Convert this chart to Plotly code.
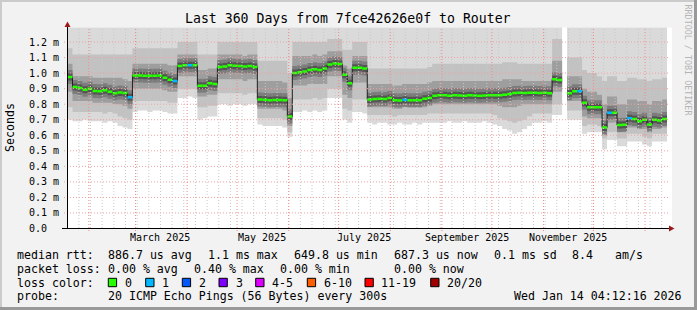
import plotly.graph_objects as go
import pandas as pd

W, H = 697, 310
def px(x): return x / W
def py(y): return 1 - y / H

FONT = "DejaVu Sans Mono"

# ---------------- data (3-day bins, starting 2025-01-19 04:12:16) ----------------
START = pd.Timestamp("2025-01-19 04:12:16")
BIN_DAYS = 3

median = [
    0.975, 0.91, 0.905, 0.893, 0.90, 0.885, 0.883, 0.89, 0.88, 0.87,
    0.875, 0.872, 0.845, 0.985, 0.985, 0.983, 0.983, 0.983, 0.985, 0.97,
    0.958, 0.95, 1.045, 1.05, 1.05, 1.05, 0.918, 0.918, 0.935, 0.93,
    1.04, 1.043, 1.05, 1.048, 1.045, 1.042, 1.045, 1.04, 0.83, 0.828,
    0.825, 0.827, 0.827, 0.825, 0.72, 1.0, 1.006, 1.01, 1.02, 1.025,
    1.02, 1.03, 1.055, 1.062, 1.058, 0.99, 0.935, 1.035, 1.035, 1.03,
    0.83, 0.833, 0.835, 0.833, 0.84, 0.825, 0.823, 0.828, 0.826, 0.825,
    0.826, 0.835, 0.84, 0.855, 0.857, 0.857, 0.855, 0.857, 0.856, 0.855,
    0.857, 0.856, 0.855, 0.856, 0.857, 0.858, 0.858, 0.86, 0.865, 0.872,
    0.873, 0.872, 0.874, 0.873, 0.872, 0.873, 0.87, 0.96, 0.955, None,
    0.87, 0.884, 0.884, 0.81, 0.78, 0.78, 0.78, 0.65, 0.745, 0.745,
    0.666, 0.668, 0.71, 0.705, 0.69, 0.70, 0.67, 0.70, 0.695, 0.705,
]

loss = [
    0, 0, 0, 0, 0, 0, 0, 0, 0, 0,
    0, 0, 1, 0, 0, 0, 0, 0, 0, 0,
    0, 1, 0, 0, 1, 0, 0, 0, 0, 0,
    0, 0, 0, 0, 0, 0, 0, 0, 0, 0,
    0, 0, 0, 0, 0, 0, 0, 0, 0, 0,
    0, 0, 0, 0, 0, 0, 0, 0, 0, 0,
    0, 0, 0, 0, 0, 0, 0, 1, 0, 0,
    0, 0, 0, 0, 0, 0, 0, 0, 0, 0,
    0, 0, 0, 0, 0, 0, 0, 0, 0, 0,
    0, 0, 0, 0, 0, 0, 0, 0, 0, 0,
    0, 0, 1, 0, 0, 0, 0, 0, 1, 0,
    0, 0, 1, 0, 0, 0, 0, 0, 0, 0,
]

lo = [
    0.70, 0.69, 0.69, 0.70, 0.69, 0.69, 0.69, 0.68, 0.69, 0.68,
    0.66, 0.65, 0.64, 0.75, 0.76, 0.76, 0.75, 0.76, 0.76, 0.75,
    0.74, 0.74, 0.84, 0.84, 0.85, 0.84, 0.70, 0.71, 0.72, 0.72,
    0.80, 0.80, 0.79, 0.80, 0.80, 0.79, 0.80, 0.80, 0.67, 0.66,
    0.66, 0.66, 0.66, 0.65, 0.59, 0.75, 0.75, 0.76, 0.75, 0.76,
    0.75, 0.76, 0.84, 0.84, 0.84, 0.70, 0.68, 0.75, 0.75, 0.74,
    0.68, 0.67, 0.68, 0.68, 0.67, 0.67, 0.68, 0.67, 0.67, 0.68,
    0.67, 0.68, 0.68, 0.68, 0.68, 0.68, 0.69, 0.68, 0.68, 0.69,
    0.68, 0.68, 0.68, 0.69, 0.68, 0.67, 0.66, 0.64, 0.63, 0.61,
    0.62, 0.64, 0.66, 0.68, 0.68, 0.69, 0.68, 0.73, 0.73, None,
    0.70, 0.70, 0.70, 0.61, 0.62, 0.62, 0.62, 0.51, 0.57, 0.57,
    0.53, 0.53, 0.56, 0.56, 0.56, 0.54, 0.53, 0.56, 0.56, 0.56,
]

p10 = [
    0.78, 0.75, 0.75, 0.75, 0.75, 0.75, 0.75, 0.74, 0.75, 0.74,
    0.72, 0.71, 0.70, 0.82, 0.82, 0.82, 0.82, 0.82, 0.82, 0.82,
    0.81, 0.81, 0.90, 0.90, 0.90, 0.90, 0.78, 0.78, 0.79, 0.79,
    0.87, 0.87, 0.87, 0.87, 0.87, 0.86, 0.87, 0.87, 0.71, 0.71,
    0.71, 0.71, 0.71, 0.70, 0.62, 0.83, 0.83, 0.83, 0.83, 0.84,
    0.83, 0.84, 0.90, 0.90, 0.90, 0.77, 0.76, 0.83, 0.83, 0.83,
    0.73, 0.73, 0.73, 0.73, 0.73, 0.72, 0.73, 0.73, 0.73, 0.73,
    0.73, 0.73, 0.74, 0.74, 0.74, 0.74, 0.74, 0.74, 0.74, 0.74,
    0.74, 0.74, 0.74, 0.74, 0.74, 0.73, 0.71, 0.70, 0.69, 0.68,
    0.69, 0.70, 0.72, 0.74, 0.74, 0.74, 0.74, 0.80, 0.80, None,
    0.76, 0.76, 0.76, 0.66, 0.67, 0.67, 0.66, 0.58, 0.62, 0.62,
    0.58, 0.58, 0.61, 0.61, 0.61, 0.59, 0.58, 0.61, 0.61, 0.61,
]

p25 = [
    0.88, 0.82, 0.82, 0.82, 0.82, 0.81, 0.81, 0.81, 0.81, 0.80,
    0.80, 0.79, 0.77, 0.90, 0.90, 0.90, 0.90, 0.90, 0.90, 0.89,
    0.88, 0.88, 0.98, 0.98, 0.98, 0.98, 0.85, 0.85, 0.86, 0.86,
    0.96, 0.96, 0.96, 0.96, 0.96, 0.95, 0.96, 0.96, 0.77, 0.77,
    0.77, 0.77, 0.77, 0.76, 0.66, 0.92, 0.92, 0.92, 0.93, 0.93,
    0.93, 0.93, 0.98, 0.98, 0.98, 0.86, 0.84, 0.94, 0.94, 0.94,
    0.78, 0.78, 0.78, 0.78, 0.78, 0.77, 0.77, 0.78, 0.78, 0.78,
    0.78, 0.78, 0.79, 0.80, 0.80, 0.80, 0.80, 0.80, 0.80, 0.80,
    0.80, 0.80, 0.80, 0.80, 0.80, 0.80, 0.79, 0.78, 0.78, 0.78,
    0.79, 0.80, 0.80, 0.80, 0.80, 0.80, 0.80, 0.88, 0.88, None,
    0.82, 0.82, 0.82, 0.72, 0.71, 0.71, 0.71, 0.60, 0.68, 0.68,
    0.62, 0.62, 0.65, 0.65, 0.64, 0.64, 0.62, 0.64, 0.64, 0.65,
]

p75 = [
    1.06, 0.98, 0.98, 0.98, 0.98, 0.97, 0.97, 0.97, 0.97, 0.97,
    0.97, 0.96, 0.95, 1.06, 1.06, 1.06, 1.06, 1.06, 1.06, 1.06,
    1.05, 1.05, 1.12, 1.12, 1.12, 1.12, 1.02, 1.02, 1.03, 1.03,
    1.12, 1.12, 1.12, 1.12, 1.12, 1.11, 1.12, 1.12, 0.95, 0.95,
    0.95, 0.95, 0.95, 0.94, 0.84, 1.11, 1.11, 1.11, 1.11, 1.12,
    1.11, 1.12, 1.14, 1.14, 1.14, 1.05, 1.03, 1.11, 1.11, 1.11,
    0.93, 0.93, 0.93, 0.93, 0.93, 0.92, 0.92, 0.93, 0.93, 0.93,
    0.93, 0.93, 0.94, 0.95, 0.95, 0.95, 0.95, 0.95, 0.95, 0.95,
    0.95, 0.95, 0.95, 0.95, 0.95, 0.95, 0.95, 0.96, 0.96, 0.96,
    0.96, 0.95, 0.95, 0.95, 0.95, 0.95, 0.95, 1.08, 1.08, None,
    0.98, 0.98, 0.98, 0.90, 0.88, 0.88, 0.86, 0.80, 0.85, 0.85,
    0.80, 0.80, 0.83, 0.83, 0.82, 0.82, 0.80, 0.82, 0.82, 0.83,
]

p90 = [
    1.16, 1.12, 1.12, 1.12, 1.12, 1.12, 1.12, 1.12, 1.12, 1.12,
    1.12, 1.12, 1.12, 1.16, 1.16, 1.16, 1.16, 1.16, 1.16, 1.16,
    1.16, 1.16, 1.20, 1.20, 1.20, 1.20, 1.12, 1.12, 1.12, 1.12,
    1.20, 1.20, 1.20, 1.20, 1.20, 1.20, 1.20, 1.20, 1.08, 1.08,
    1.08, 1.08, 1.08, 1.08, 1.00, 1.20, 1.20, 1.20, 1.20, 1.20,
    1.20, 1.20, 1.22, 1.22, 1.22, 1.15, 1.15, 1.20, 1.20, 1.20,
    1.03, 1.03, 1.03, 1.03, 1.03, 1.03, 1.03, 1.03, 1.03, 1.03,
    1.03, 1.03, 1.04, 1.06, 1.06, 1.06, 1.06, 1.06, 1.06, 1.06,
    1.06, 1.06, 1.06, 1.06, 1.06, 1.06, 1.06, 1.07, 1.07, 1.07,
    1.06, 1.06, 1.06, 1.06, 1.06, 1.06, 1.06, 1.22, 1.22, None,
    1.10, 1.10, 1.10, 1.02, 1.00, 1.00, 0.98, 0.95, 0.98, 0.98,
    0.95, 0.95, 0.97, 0.97, 0.96, 0.96, 0.95, 0.96, 0.96, 0.97,
]

# highest pings: above the top of the graph (clipped), none in the gap
hi = [None if m is None else 1.30 for m in median]

y_ticks = [0.0, 0.1, 0.2, 0.3, 0.4, 0.5, 0.6, 0.7, 0.8, 0.9, 1.0, 1.1, 1.2]
y_labels = ["0.0\u00a0\u00a0", "0.1 m", "0.2 m", "0.3 m", "0.4 m", "0.5 m", "0.6 m",
            "0.7 m", "0.8 m", "0.9 m", "1.0 m", "1.1 m", "1.2 m"]
month_labels = ["March 2025", "May 2025", "July 2025", "September 2025", "November 2025"]
month_label_dates = ["2025-03-16", "2025-05-16", "2025-07-16", "2025-09-16", "2025-11-16"]

loss_names = ["0", "1", "2", "3", "4-5", "6-10", "11-19", "20/20"]
loss_colors = ["#26ff00", "#00b8ff", "#0059ff", "#7e00ff", "#dd00ff", "#ff5e00", "#ff0000", "#a10000"]

# ---------------- helpers ----------------
n = len(median)
edges = [(START + pd.Timedelta(days=BIN_DAYS * i)).strftime("%Y-%m-%d %H:%M:%S") for i in range(n + 1)]

def runs(vals):
    out, cur = [], []
    for i, v in enumerate(vals):
        if v is None:
            if cur:
                out.append(cur)
                cur = []
        else:
            cur.append(i)
    if cur:
        out.append(cur)
    return out

def band(lower, upper):
    xs, ys = [], []
    for r in runs(lower):
        fx, fy = [], []
        for i in r:
            fx += [edges[i], edges[i + 1]]
            fy += [lower[i], lower[i]]
        for i in reversed(r):
            fx += [edges[i + 1], edges[i]]
            fy += [upper[i], upper[i]]
        xs += fx + [fx[0], None]
        ys += fy + [fy[0], None]
    return xs, ys

def step(vals):
    xs, ys = [], []
    for r in runs(vals):
        for i in r:
            xs += [edges[i], edges[i + 1]]
            ys += [vals[i], vals[i]]
        xs.append(None)
        ys.append(None)
    return xs, ys

def segs(vals, keep):
    xs, ys = [], []
    for i, v in enumerate(vals):
        if v is None or not keep(i):
            continue
        xs += [edges[i], edges[i + 1], None]
        ys += [v, v, None]
    return xs, ys

fig = go.Figure()

for lower, upper, col in [(lo, hi, "#dadada"), (p10, p90, "#c2c2c2"), (p25, p75, "#9e9e9e")]:
    bx, by = band(lower, upper)
    fig.add_trace(go.Scatter(x=bx, y=by, mode="lines", fill="toself", fillcolor=col,
                             line=dict(width=0), hoverinfo="skip", showlegend=False))

cx, cy = segs(median, lambda i: True)
fig.add_trace(go.Scatter(x=cx, y=cy, mode="lines", line=dict(color="#7c7c7c", width=14),
                         hoverinfo="skip", showlegend=False))
fig.add_trace(go.Scatter(x=cx, y=cy, mode="lines", line=dict(color="#545454", width=7),
                         hoverinfo="skip", showlegend=False))

sx, sy = step(median)
fig.add_trace(go.Scatter(x=sx, y=sy, mode="lines", line=dict(color="#202020", width=1),
                         hoverinfo="skip", showlegend=False))

for lv in sorted(set(loss)):
    gx, gy = segs(median, lambda i, lv=lv: loss[i] == lv)
    fig.add_trace(go.Scatter(x=gx, y=gy, mode="lines", line=dict(color=loss_colors[lv], width=2.5),
                             hoverinfo="skip", showlegend=False))

# ---------------- layout ----------------
Y_TOP = (228 - 27.5) / 155.0
shapes = []
GRID_DASH = "1px,2px"
for v in y_ticks[1:]:
    shapes.append(dict(type="line", xref="paper", yref="y", x0=px(64), x1=px(668), y0=v, y1=v,
                       line=dict(color="#f2a0a0", width=1, dash=GRID_DASH), layer="above"))
for d in pd.date_range("2025-01-19", "2026-01-17", freq="W-SUN"):
    shapes.append(dict(type="line", xref="x", yref="paper", x0=d, x1=d, y0=py(228), y1=py(27.5),
                       line=dict(color="#c8c8c8", width=1, dash=GRID_DASH), layer="above"))
for d in pd.date_range("2025-02-01", "2026-01-17", freq="MS"):
    shapes.append(dict(type="line", xref="x", yref="paper", x0=d, x1=d, y0=py(231), y1=py(27.5),
                       line=dict(color="#f08a8a", width=1, dash=GRID_DASH), layer="above"))

# axes lines and arrows
shapes.append(dict(type="line", xref="paper", yref="paper", x0=px(67.5), x1=px(67.5), y0=py(228.5), y1=py(25),
                   line=dict(color="#000000", width=1), layer="above"))
shapes.append(dict(type="line", xref="paper", yref="paper", x0=px(62), x1=px(670), y0=py(228.5), y1=py(228.5),
                   line=dict(color="#000000", width=1), layer="above"))
shapes.append(dict(type="path", xref="paper", yref="paper",
                   path=f"M {px(64.5)} {py(27)} L {px(70.5)} {py(27)} L {px(67.5)} {py(21.5)} Z",
                   fillcolor="#9a1a1a", line=dict(width=0), layer="above"))
shapes.append(dict(type="path", xref="paper", yref="paper",
                   path=f"M {px(669)} {py(225.5)} L {px(669)} {py(231.5)} L {px(674.5)} {py(228.5)} Z",
                   fillcolor="#9a1a1a", line=dict(width=0), layer="above"))

# frame
shapes += [
    dict(type="rect", xref="paper", yref="paper", x0=0, x1=1, y0=py(0), y1=py(2),
         fillcolor="#cbcbcb", line=dict(width=0), layer="above"),
    dict(type="rect", xref="paper", yref="paper", x0=0, x1=px(2), y0=0, y1=1,
         fillcolor="#cbcbcb", line=dict(width=0), layer="above"),
    dict(type="rect", xref="paper", yref="paper", x0=px(694), x1=1, y0=0, y1=1,
         fillcolor="#999999", line=dict(width=0), layer="above"),
    dict(type="rect", xref="paper", yref="paper", x0=0, x1=1, y0=0, y1=py(307),
         fillcolor="#999999", line=dict(width=0), layer="above"),
]

annotations = []
def txt(s, x, y, size=11.6, anchor="left", color="#000000", **kw):
    annotations.append(dict(text=s, x=px(x), y=py(y), xref="paper", yref="paper", xanchor=anchor,
                            yanchor="middle", showarrow=False,
                            font=dict(family=FONT, size=size, color=color), **kw))

txt("Last 360 Days from 7fce42626e0f to Router", 347.7, 19, size=13.2, anchor="center")
txt("RRDTOOL / TOBI OETIKER", 687.5, 60, size=8.4, anchor="center", color="#b4b4b4", textangle=90)
txt("Seconds", 10, 128, size=11.6, anchor="center", textangle=-90)

for v, lab in zip(y_ticks, y_labels):
    annotations.append(dict(text=lab, x=px(61), y=v, xref="paper", yref="y", xanchor="right",
                            yanchor="middle", showarrow=False, font=dict(family=FONT, size=10, color="#000")))
for d, lab in zip(month_label_dates, month_labels):
    annotations.append(dict(text=lab, x=d, y=py(237.5), xref="x", yref="paper", xanchor="center",
                            yanchor="middle", showarrow=False, font=dict(family=FONT, size=10, color="#000")))

OFF = -1.5
for s, x in [("median rtt:", 16), ("886.7 us avg", 107.3), ("1.1 ms max", 207.3), ("649.8 us min", 293.3),
             ("687.3 us now", 393.3), ("0.1 ms sd", 493.3), ("8.4", 571), ("am/s", 614)]:
    txt(s, x + OFF, 255)
for s, x in [("packet loss:", 16), ("0.00 % avg", 107.3), ("0.40 % max", 193.3), ("0.00 % min", 279.3),
             ("0.00 % now", 393.3)]:
    txt(s, x + OFF, 268.5)
txt("loss color:", 16 + OFF, 282.5)
box_x = [108.3, 145.7, 182.3, 219, 255.7, 307.3, 365, 430.7]
lab_x = [124, 161.7, 198.3, 235, 271.7, 323.3, 380.7, 446]
for name, col, bx, lx in zip(loss_names, loss_colors, box_x, lab_x):
    shapes.append(dict(type="rect", xref="paper", yref="paper", x0=px(bx), x1=px(bx + 8.3),
                       y0=py(286.7), y1=py(278.3), fillcolor=col, line=dict(color="#000000", width=1),
                       layer="above"))
    txt(name, lx + OFF, 282.5)
txt("probe:", 16 + OFF, 296)
txt("20 ICMP Echo Pings (56 Bytes) every 300s", 107.3 + OFF, 296)
txt("Wed Jan 14 04:12:16 2026", 513.3 + OFF, 296)

fig.update_layout(
    width=W, height=H, margin=dict(l=0, r=0, t=0, b=0),
    paper_bgcolor="#f2f2f2", plot_bgcolor="#ffffff",
    showlegend=False,
    xaxis=dict(type="date", domain=[px(67.5), px(672)],
               range=[START.strftime("%Y-%m-%d %H:%M:%S"), "2026-01-17 04:12:16"],
               showgrid=False, zeroline=False, showline=False, showticklabels=False, ticks=""),
    yaxis=dict(domain=[py(228.5), py(27.5)], range=[0, Y_TOP], showgrid=False, zeroline=False,
               showline=False, showticklabels=False, ticks=""),
    shapes=shapes, annotations=annotations,
)

fig.write_html("out.html")
